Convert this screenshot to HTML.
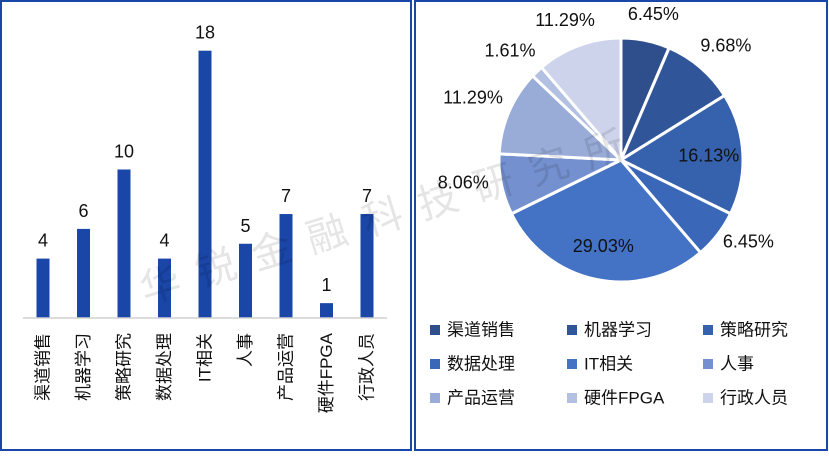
<!DOCTYPE html>
<html><head><meta charset="utf-8"><style>
html,body{margin:0;padding:0;background:#fff;}
body{width:829px;height:452px;overflow:hidden;position:relative;font-family:"Liberation Sans","Noto Sans CJK SC",sans-serif;}
svg text{font-family:"Liberation Sans","Noto Sans CJK SC",sans-serif;}
</style></head><body>
<svg id="chart" width="829" height="452" viewBox="0 0 829 452">
  <rect x="1" y="1" width="410" height="449" fill="#fff" stroke="#1a46a8" stroke-width="2"/>
  <rect x="415" y="1" width="412" height="449" fill="#fff" stroke="#1a46a8" stroke-width="2"/>
  <g id="bars"></g>
  <g id="pie"></g>
  <g id="legend"></g>
  <text x="395" y="228" transform="rotate(-17 395 228)" text-anchor="middle" font-size="40" fill="#000" fill-opacity="0.1" letter-spacing="18">华锐金融科技研究所</text>
</svg>
<script>
const categories = ["渠道销售","机器学习","策略研究","数据处理","IT相关","人事","产品运营","硬件FPGA","行政人员"];
const counts = [4,6,10,4,18,5,7,1,7];
const pieColors = ["#2e4f8c","#305699","#3561ad","#3a67b8","#4472c4","#7590cf","#99acd8","#b3c0e2","#ccd3ea"];
const NS = "http://www.w3.org/2000/svg";
function mk(tag, attrs, parent){const e=document.createElementNS(NS,tag);for(const k in attrs)e.setAttribute(k,attrs[k]);parent.appendChild(e);return e;}

// Bar chart
const bars = document.getElementById('bars');
const baseY = 318, unit = 14.85, x0 = 43, step = 40.5, bw = 13;
const xScale = i => x0 + i*step;
const yScale = v => baseY - v*unit;
categories.forEach((c,i)=>{
  const r = mk('rect',{x:xScale(i)-bw/2,y:yScale(counts[i]),width:bw,height:baseY-yScale(counts[i]),fill:'#1a46a8'},bars);
  
  
  const t = mk('text',{x:xScale(i),y:yScale(counts[i])-12,'text-anchor':'middle','font-size':'18',fill:'#111'},bars);
  t.textContent = counts[i];
  
  
  const lx = xScale(i), ly = 333;
  const l = mk('text',{x:lx,y:ly,'text-anchor':'end','dominant-baseline':'central','font-size':'17',fill:'#111',transform:`rotate(-90 ${lx} ${ly})`},bars);
  l.textContent = c;
  
  
});
const ax = mk('line',{x1:23,y1:baseY,x2:387,y2:baseY,stroke:'#d0d0d0','stroke-width':'1.5'},bars);



// Pie
const pie = document.getElementById('pie');
const cx = 621, cy = 160, R = 122;
const total = counts.reduce((a,b)=>a+b,0);
let cum = 0;
counts.forEach((v,i)=>{
  const a0 = cum/total*2*Math.PI; cum += v; const a1 = cum/total*2*Math.PI;
  const p = a => [cx+R*Math.sin(a), cy-R*Math.cos(a)];
  const [sx,sy]=p(a0),[ex,ey]=p(a1);
  const large = (a1-a0)>Math.PI?1:0;
  const s = mk('path',{d:`M${cx},${cy} L${sx},${sy} A${R},${R} 0 ${large} 1 ${ex},${ey} Z`,fill:pieColors[i],stroke:'#fff','stroke-width':'3','stroke-linejoin':'round'},pie);
  
  
  const pct = v/total;
  const am = (a0+a1)/2;
  const inside = pct>0.12;
  const fx = inside ? 0.72 : 1.32, fy = inside ? 0.72 : 1.17;
  const ty = cy - R*fy*Math.cos(am) - (inside?0:6);
  const t = mk('text',{x:cx+R*fx*Math.sin(am),y:ty,'text-anchor':'middle','dominant-baseline':'central','font-size':'18',fill:'#111'},pie);
  t.textContent = (pct*100).toFixed(2)+'%';
  
  
});

// Legend
const lg = document.getElementById('legend');
const colX = [430,567,703], rowY = [330,364,398];
categories.forEach((c,i)=>{
  const x = colX[i%3], y = rowY[Math.floor(i/3)];
  const sq = mk('rect',{x:x,y:y-5,width:10,height:10,fill:pieColors[i]},lg);
  
  
  const t = mk('text',{x:x+17,y:y,'dominant-baseline':'central','font-size':'17',fill:'#111'},lg);
  t.textContent = c;
  
  
});
</script>
</body></html>
